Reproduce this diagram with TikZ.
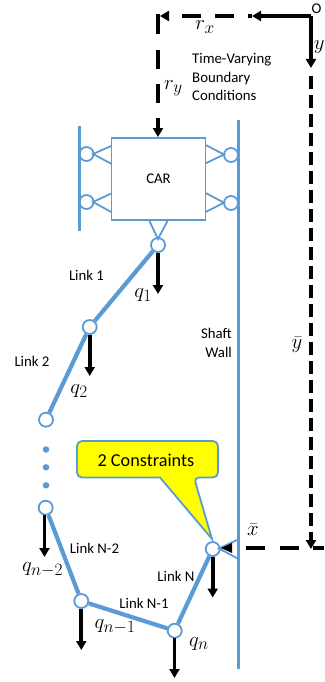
\documentclass[tikz,border=0pt]{standalone}
\usepackage{fontspec}
\setmainfont{Carlito}
\usetikzlibrary{arrows.meta}
\DeclareMathSizes{20.74}{20.74}{17.28}{14.4}
\definecolor{linkblue}{HTML}{5B9BD5}
\definecolor{noteyellow}{RGB}{255,255,0}
\tikzset{
	wall/.style={draw=linkblue, line width=2.2},
	mount/.style={draw=linkblue, line width=1.8},
	link/.style={draw=linkblue, line width=4.2},
	joint/.style={circle, draw=linkblue, fill=white, line width=1.8, minimum size=14, inner sep=0},
	dot/.style={circle, fill=linkblue, minimum size=6.5, inner sep=0},
	carbox/.style={rectangle, draw=linkblue, line width=1.8, minimum width=94, minimum height=82, font=\fontsize{14.8}{14.8}\selectfont},
	gravity/.style={line width=3.8, -{Triangle[length=9,width=10]}},
	frame/.style={line width=3.8},
	framehead/.style={-{Triangle[length=9,width=10]}},
	tag/.style={font=\fontsize{14.8}{14.8}\selectfont, inner sep=0},
	symb/.style={font=\huge, inner sep=0}
}
\begin{document}
\begin{tikzpicture}[x=1pt, y=-1pt]
	\useasboundingbox (0, 0) rectangle (324, 682);
	\coordinate (origin) at (311, 16);
	\coordinate (rxmid) at (252, 16);
	\coordinate (rxend) at (160, 16);
	\coordinate (rycorner) at (158, 14);
	\coordinate (rygap) at (158, 34);
	\coordinate (rystart) at (158, 50);
	\coordinate (ryend) at (158, 137);
	\coordinate (yhead) at (311, 68);
	\coordinate (ystart) at (311, 76);
	\coordinate (yend) at (311, 549);
	\coordinate (xright) at (324, 548);
	\coordinate (xmid) at (240, 548);
	\coordinate (xtip) at (221, 548);
	\coordinate (xtipa) at (232, 543);
	\coordinate (xtipb) at (232, 553);
	\coordinate (wallltop) at (79.5, 126);
	\coordinate (walllbot) at (79.5, 231);
	\coordinate (wallrtop) at (238.5, 120);
	\coordinate (wallrbot) at (238.5, 669);
	\node [carbox] (car) at (158.5, 179) {CAR};
	\node [joint] (lw1) at (86.5, 154) {};
	\node [joint] (lw2) at (86.5, 202) {};
	\node [joint] (rw1) at (231, 155) {};
	\node [joint] (rw2) at (231, 203) {};
	\node [joint] (j1) at (158, 245) {};
	\node [joint] (j2) at (89.7, 327) {};
	\node [joint] (j3) at (46, 419.7) {};
	\node [dot] (d1) at (46, 449.5) {};
	\node [dot] (d2) at (46, 467.3) {};
	\node [dot] (d3) at (46, 485.3) {};
	\node [joint] (j4) at (45.7, 507.7) {};
	\node [joint] (j5) at (81.3, 601) {};
	\node [joint] (j6) at (174.7, 630.7) {};
	\node [joint] (j7) at (212.7, 549) {};
	\coordinate (lw1a) at (111.7, 145.7);
	\coordinate (lw1b) at (111.7, 164);
	\coordinate (lw1c) at (93, 154);
	\coordinate (lw2a) at (111.7, 193.3);
	\coordinate (lw2b) at (111.7, 212.3);
	\coordinate (lw2c) at (93, 202);
	\coordinate (rw1a) at (205.7, 145);
	\coordinate (rw1b) at (205.7, 163.3);
	\coordinate (rw1c) at (224, 154.5);
	\coordinate (rw2a) at (205.7, 193);
	\coordinate (rw2b) at (205.7, 212);
	\coordinate (rw2c) at (224, 202.7);
	\coordinate (j1a) at (149, 220);
	\coordinate (j1b) at (168, 220);
	\coordinate (j1c) at (158, 239);
	\coordinate (wedgea) at (238.5, 539.3);
	\coordinate (wedgeb) at (238.5, 559);
	\coordinate (wedgec) at (219, 548.5);
	\coordinate (q1a) at (158, 253);
	\coordinate (q1b) at (158, 294);
	\coordinate (q2a) at (89.7, 335);
	\coordinate (q2b) at (89.7, 376);
	\coordinate (q3a) at (44.5, 515);
	\coordinate (q3b) at (44.5, 557);
	\coordinate (q4a) at (81.3, 609);
	\coordinate (q4b) at (81.3, 650);
	\coordinate (q5a) at (174.5, 638);
	\coordinate (q5b) at (174.5, 678);
	\coordinate (q6a) at (212.7, 557);
	\coordinate (q6b) at (212.7, 597.5);
	\draw [wall] (wallltop) to (walllbot);
	\draw [wall] (wallrtop) to (wallrbot);
	\draw [mount] (lw1a) to (lw1c) to (lw1b);
	\draw [mount] (lw2a) to (lw2c) to (lw2b);
	\draw [mount] (rw1a) to (rw1c) to (rw1b);
	\draw [mount] (rw2a) to (rw2c) to (rw2b);
	\draw [mount] (j1a) to (j1c) to (j1b);
	\draw [mount] (wedgea) to (wedgec) to (wedgeb);
	\draw [link] (j1) to (j2);
	\draw [link] (j2) to (j3);
	\draw [link] (j4) to (j5);
	\draw [link] (j5) to (j6);
	\draw [link] (j6) to (j7);
	\draw [gravity] (q1a) to (q1b);
	\draw [gravity] (q2a) to (q2b);
	\draw [gravity] (q3a) to (q3b);
	\draw [gravity] (q4a) to (q4b);
	\draw [gravity] (q5a) to (q5b);
	\draw [gravity] (q6a) to (q6b);
	\draw [frame, framehead] (origin) to (rxmid);
	\draw [frame, framehead, dash pattern=on 19 off 14, dash phase=15] (rxmid) to (rxend);
	\draw [frame] (rycorner) to (rygap);
	\draw [frame, framehead, dash pattern=on 19 off 15] (rystart) to (ryend);
	\draw [frame, framehead] (origin) to (yhead);
	\draw [frame, framehead, dash pattern=on 13 off 6] (ystart) to (yend);
	\draw [frame, dash pattern=on 19 off 14.5, dash phase=8] (xright) to (xmid);
	\draw [fill=black, draw=none] (xtip) -- (xtipa) -- (xtipb) -- cycle;
	\draw [draw=linkblue, line width=1.8, fill=noteyellow, rounded corners=5] (160, 477.5) -- (77, 477.5) -- (77, 441) -- (218, 441) -- (218, 477.5) -- (194, 477.5) [sharp corners] -- (212, 539) -- cycle;
	\node [font=\fontsize{18.2}{18.2}\selectfont, inner sep=0] (constraints) at (146, 460.5) {2 Constraints};
	\node [tag] (o) at (316.5, 9) {O};
	\node [tag, anchor=west] (tv1) at (192, 60) {Time-Varying};
	\node [tag, anchor=west] (tv2) at (192, 78.5) {Boundary};
	\node [tag, anchor=west] (tv3) at (192, 95.5) {Conditions};
	\node [tag] (link1) at (86.5, 275.5) {Link 1};
	\node [tag] (link2) at (32, 361.5) {Link 2};
	\node [tag] (link3) at (94.5, 548) {Link N-2};
	\node [tag] (link4) at (144, 603) {Link N-1};
	\node [tag] (link5) at (176, 576) {Link N};
	\node [tag, anchor=east] (shaft) at (232, 333.5) {Shaft};
	\node [tag, anchor=east] (shaftwall) at (232, 352.5) {Wall};
	\node [symb] (rx) at (205, 27) {$r_x$};
	\node [symb] (ry) at (173.5, 88) {$r_y$};
	\node [symb] (ybar) at (297, 345) {$\bar{y}$};
	\node [symb] (ylab) at (319.3, 47) {$y$};
	\node [symb] (xbar) at (253, 530) {$\bar{x}$};
	\node [symb] (q1) at (143, 295) {$q_1$};
	\node [symb] (q2) at (79, 391) {$q_2$};
	\node [symb] (q3) at (42.5, 570) {$q_{n-2}$};
	\node [symb] (q4) at (115, 627) {$q_{n-1}$};
	\node [symb] (q5) at (199, 644) {$q_n$};
\end{tikzpicture}
\end{document}
